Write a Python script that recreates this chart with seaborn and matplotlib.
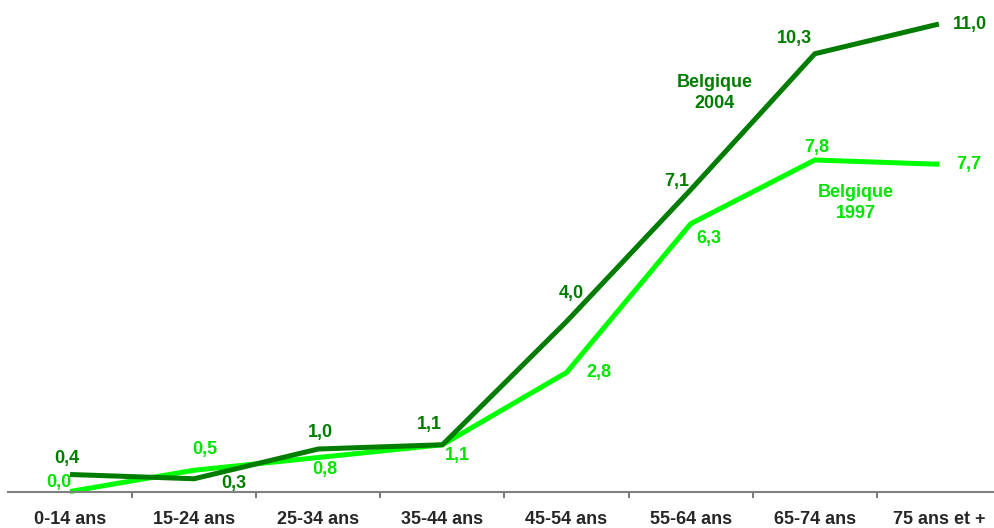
import pandas as pd
import matplotlib.pyplot as plt
import seaborn as sns

# Données
categories = ['0-14 ans', '15-24 ans', '25-34 ans', '35-44 ans',
              '45-54 ans', '55-64 ans', '65-74 ans', '75 ans et +']
valeurs_2004 = [0.4, 0.3, 1.0, 1.1, 4.0, 7.1, 10.3, 11.0]
valeurs_1997 = [0.0, 0.5, 0.8, 1.1, 2.8, 6.3, 7.8, 7.7]

vert_fonce = '#007D00'
vert_clair = '#00FF00'
vert_clair_txt = '#00E400'

sns.set_style("white")
plt.rcParams['font.family'] = ['Liberation Sans', 'DejaVu Sans']
plt.rcParams['font.weight'] = 'bold'

df = pd.DataFrame({
    'pos': list(range(len(categories))) * 2,
    'valeur': valeurs_1997 + valeurs_2004,
    'annee': ['1997'] * len(categories) + ['2004'] * len(categories),
})

fig = plt.figure(figsize=(9.95, 5.28), dpi=100)
ax = fig.add_axes([8 / 995, 36.5 / 528, 993 / 995, 491.5 / 528])

sns.lineplot(data=df, x='pos', y='valeur', hue='annee', hue_order=['1997', '2004'],
             palette={'1997': vert_clair, '2004': vert_fonce}, linewidth=3.6,
             legend=False, ax=ax, clip_on=False, solid_capstyle='butt',
             solid_joinstyle='miter')

ax.set_xlim(-0.5, 7.5)
ax.set_ylim(0, 11.565)

# Axe
for s in ['left', 'top', 'right']:
    ax.spines[s].set_visible(False)
ax.spines['bottom'].set_color('#808080')
ax.spines['bottom'].set_linewidth(1.5)
ax.set_yticks([])
ax.set_xticks(range(len(categories)))
ax.set_xticklabels(categories, fontsize=13, fontweight='bold')
ax.set_xticks([i + 0.5 for i in range(len(categories) - 1)], minor=True)
ax.tick_params(axis='x', which='major', length=0, pad=14)
ax.tick_params(axis='x', which='minor', bottom=True, length=4, width=1.2,
               color='#606060', direction='out')
ax.set_xlabel('')
ax.set_ylabel('')

# Étiquettes de valeurs (décalages en pixels)
dec_2004 = [(-3, 16), (40, -5), (2, 17), (-13, 20), (5, 28), (-14, 8), (-20, 15), (31, 0)]
dec_1997 = [(-11, 9), (11, 21), (7, -12), (15, -11), (32, 0), (18, -15), (2, 13), (30, 0)]

for i, (v, d) in enumerate(zip(valeurs_2004, dec_2004)):
    ax.annotate(f"{v:.1f}".replace('.', ','), (i, v), xytext=d, textcoords='offset pixels',
                ha='center', va='center', fontsize=13, fontweight='bold', color=vert_fonce)
for i, (v, d) in enumerate(zip(valeurs_1997, dec_1997)):
    ax.annotate(f"{v:.1f}".replace('.', ','), (i, v), xytext=d, textcoords='offset pixels',
                ha='center', va='center', fontsize=13, fontweight='bold', color=vert_clair_txt)

# Noms des séries
ax.text(5.19, 9.38, 'Belgique\n2004', ha='center', va='center', fontsize=13,
        fontweight='bold', color=vert_fonce, linespacing=1.3)
ax.text(6.33, 6.79, 'Belgique\n1997', ha='center', va='center', fontsize=13,
        fontweight='bold', color=vert_clair_txt, linespacing=1.3)

fig.savefig('out.png', dpi=100)
